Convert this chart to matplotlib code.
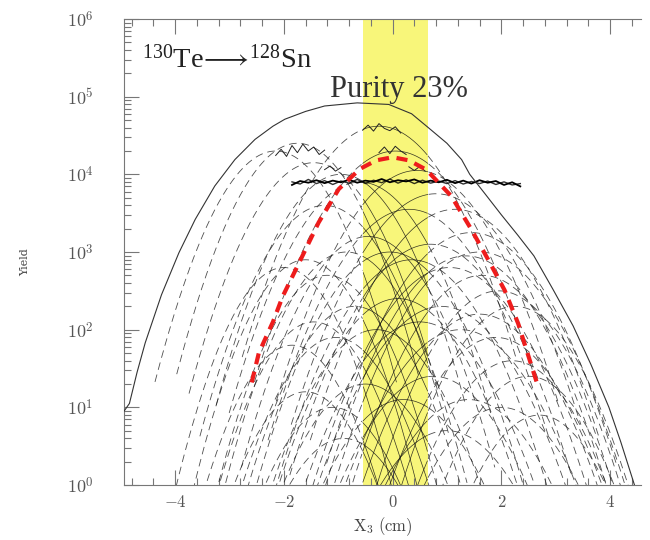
import numpy as np
import matplotlib
matplotlib.use('Agg')
import matplotlib.pyplot as plt
from matplotlib import ticker

plt.rcParams['mathtext.fontset'] = 'cm'
plt.rcParams['lines.scale_dashes'] = False

# isotope distributions along x3: centre (cm), peak yield (log10), width (cm)
iso_centre = [-2.15, -1.75, -1.45, -0.95, -0.60, -0.25, 0.05, 0.45, 0.80, 1.15,
              1.45, -1.25, 0.30,
              -2.00, -1.60, -1.20, -0.85, -0.45, -0.05, 0.35, 0.70, 1.05, 1.35,
              1.60, 1.65, 1.95, 2.25,
              -1.85, -1.45, -1.05, -0.70, -0.30, 0.10, 0.50, 0.90, 1.25, 1.60,
              1.90, 2.20, 2.50,
              -1.60, -1.10, -0.50, 0.20, 0.75, 1.40, 2.00, 2.70, -0.90, 1.00]
iso_logpeak = [4.30, 4.40, 4.15, 4.00, 3.90, 4.62, 4.30, 4.05, 3.75, 3.55,
               3.25, 3.60, 3.55,
               2.80, 2.90, 2.70, 3.00, 3.20, 3.00, 2.90, 3.10, 2.80, 2.95,
               3.00, 2.70, 2.50, 2.30,
               1.80, 2.10, 1.90, 2.30, 2.00, 2.40, 2.10, 2.30, 2.00, 2.20,
               1.90, 1.60, 1.40,
               1.20, 1.00, 1.30, 1.10, 1.40, 1.10, 1.00, 0.90, 0.60, 0.70]
iso_width = [0.60, 0.60, 0.62, 0.62, 0.65, 0.68, 0.70, 0.70, 0.72, 0.72,
             0.72, 0.62, 0.70,
             0.55, 0.56, 0.57, 0.60, 0.63, 0.66, 0.68, 0.70, 0.70, 0.70,
             0.72, 0.68, 0.66, 0.64,
             0.55, 0.56, 0.58, 0.60, 0.63, 0.66, 0.68, 0.70, 0.70, 0.68,
             0.66, 0.64, 0.62,
             0.56, 0.58, 0.62, 0.66, 0.68, 0.68, 0.66, 0.60, 0.60, 0.68]

# 128Sn (red dashed)
sn_x = [-2.59, -2.46, -2.20, -2.02, -1.72, -1.36, -0.99, -0.60, -0.30, 0.0,
        0.30, 0.62, 1.08, 1.45, 1.76, 2.06, 2.31, 2.68]
sn_logy = [1.32, 1.70, 2.10, 2.43, 2.86, 3.38, 3.81, 4.07, 4.18, 4.22,
           4.18, 4.06, 3.72, 3.29, 2.90, 2.51, 2.08, 1.26]

# total yield envelope (solid)
tot_x = [-4.94, -4.84, -4.70, -4.55, -4.25, -3.93, -3.63, -3.27, -2.90, -2.53,
         -2.20, -1.98, -1.60, -1.25, -0.65, -0.07, 0.35, 0.66, 1.00, 1.27,
         1.42, 1.70, 2.00, 2.30, 2.60, 2.95, 3.32, 3.65, 3.98, 4.20, 4.45]
tot_logy = [0.95, 1.05, 1.45, 1.83, 2.45, 2.99, 3.42, 3.85, 4.19, 4.45,
            4.62, 4.71, 4.81, 4.88, 4.92, 4.90, 4.78, 4.60, 4.40, 4.19,
            4.00, 3.75, 3.48, 3.22, 2.95, 2.52, 2.05, 1.55, 1.00, 0.55, 0.00]

# noisy simulated histograms near 8e3 and at the peaks
flat_x = [-1.85, -1.70, -1.55, -1.40, -1.25, -1.10, -0.95, -0.80, -0.65, -0.50,
          -0.35, -0.20, -0.05, 0.10, 0.25, 0.40, 0.55, 0.70, 0.85, 1.00,
          1.15, 1.30, 1.45, 1.60, 1.75, 1.90, 2.05, 2.20, 2.35]
flat_y1 = [7300, 8200, 7800, 8400, 7700, 8300, 7900, 8500, 7800, 8300,
           8000, 8700, 7900, 8400, 8100, 8600, 7800, 8300, 7900, 8500,
           7700, 8300, 7600, 8400, 7800, 8200, 7300, 7900, 7000]
flat_y2 = [8000, 7500, 8600, 7600, 8300, 7400, 8200, 7700, 8600, 7600,
           8400, 7800, 8700, 7700, 8500, 7600, 8400, 7700, 8200, 7600,
           8300, 7500, 8100, 7600, 8200, 7400, 8000, 7300, 7600]
blob_x = [[-2.15, -2.05, -1.95, -1.85, -1.75, -1.65, -1.55, -1.45, -1.35, -1.25],
          [-0.55, -0.45, -0.35, -0.25, -0.15, -0.05, 0.05, 0.15],
          [-0.25, -0.15, -0.05, 0.05, 0.15, 0.25],
          [-1.25, -1.15, -1.05, -0.95],
          [0.30, 0.40, 0.50, 0.60]]
blob_y = [[17500, 21000, 17000, 23500, 19000, 24500, 20000, 22500, 18000, 20500],
          [37000, 43000, 36000, 45000, 39000, 36500, 41000, 34000],
          [19000, 22500, 18500, 23000, 20000, 18000],
          [11500, 12800, 11000, 12200],
          [12500, 11200, 12600, 11000]]

band = (-0.55, 0.65)
y_decades = [0, 1, 2, 3, 4, 5, 6]

fig = plt.figure(figsize=(6.5, 5.4), dpi=100)
ax = fig.add_axes([124 / 650, 1 - 485 / 540, 517 / 650, 466 / 540])
ax.axvspan(band[0], band[1], color='#f8f67a', lw=0, zorder=0)

for c, lp, s in zip(iso_centre, iso_logpeak, iso_width):
    x = np.linspace(c - 3.7 * s, c + 3.7 * s, 300)
    y = 10 ** lp * np.exp(-0.5 * ((x - c) / s) ** 2)
    inside = (x >= band[0]) & (x <= band[1])
    ax.plot(x, np.where(inside, np.nan, y), color='#222222', lw=0.6,
            dashes=(5.5, 3.5), alpha=0.8, zorder=2)
    ax.plot(x, np.where(inside, y, np.nan), color='#111111', lw=0.5,
            alpha=0.85, zorder=2)

ax.plot(flat_x, flat_y1, color='black', lw=1.3, zorder=3)
ax.plot(flat_x, flat_y2, color='black', lw=1.0, alpha=0.8, zorder=3)
for bx, by in zip(blob_x, blob_y):
    ax.plot(bx, by, color='#222222', lw=0.7, zorder=3)

ax.plot(tot_x, 10 ** np.array(tot_logy), color='#333333', lw=0.8, zorder=3)
ax.plot(sn_x, 10 ** np.array(sn_logy), color='#ee1c1c', lw=3.0,
        dashes=(8, 5.5), zorder=4)

ax.set_yscale('log')
ax.set_xlim(-4.94, 4.57)
ax.set_ylim(1, 1e6)
ax.xaxis.set_major_locator(ticker.MultipleLocator(2))
ax.xaxis.set_minor_locator(ticker.MultipleLocator(0.4))
ax.xaxis.set_major_formatter(ticker.FuncFormatter(lambda v, p: r'$%d$' % round(v)))
ax.yaxis.set_major_locator(ticker.FixedLocator([10.0 ** d for d in y_decades]))
ax.yaxis.set_minor_locator(ticker.FixedLocator(
    [m * 10.0 ** d for d in y_decades[:-1] for m in range(2, 10)]))
ax.yaxis.set_major_formatter(ticker.FuncFormatter(
    lambda v, p: r'$10^{%d}$' % round(np.log10(v))))
ax.yaxis.set_minor_formatter(ticker.NullFormatter())
ax.tick_params(which='both', direction='in', top=True, right=False, colors='#777777',
               labelcolor='#555555', width=0.8)
ax.tick_params(which='major', length=11)
ax.tick_params(which='minor', length=5)
ax.tick_params(axis='y', labelsize=13, pad=22)
ax.tick_params(axis='x', labelsize=12, pad=6)
for side in ('left', 'top', 'bottom'):
    ax.spines[side].set_color('#777777')
ax.spines['right'].set_visible(False)

ax.set_xlabel(r'$\mathrm{X_3\ (cm)}$', fontsize=12, color='#444444', labelpad=3)
fig.text(25 / 650, 1 - 262 / 540, 'Yield', rotation=90, fontsize=8,
         color='#444444', ha='center', va='center', family='DejaVu Serif')

fig.text(142 / 650, 1 - 68 / 540,
         r'$\mathregular{^{130}Te\!\longrightarrow\!^{128}Sn}$',
         family='Liberation Serif', fontsize=20.5, color='#222222', va='baseline')
fig.text(330 / 650, 1 - 97 / 540, 'Purity 23%', family='Liberation Serif',
         fontsize=22, color='#333333', va='baseline')

fig.savefig('out.png', dpi=100)
